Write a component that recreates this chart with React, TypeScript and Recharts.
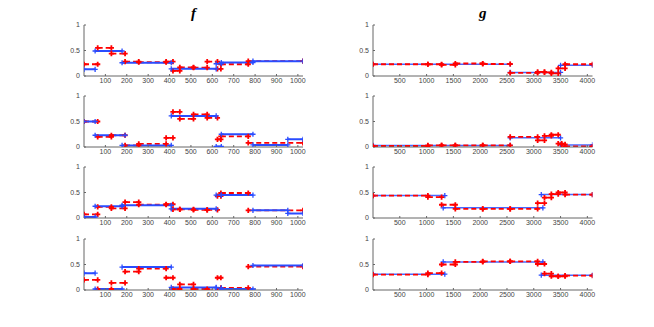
import React from 'react';
import { LineChart, Line, XAxis, YAxis } from 'recharts';

type Seg = [number, number, number];

const fTicks = [100, 200, 300, 400, 500, 600, 700, 800, 900, 1000];
const gTicks = [500, 1000, 1500, 2000, 2500, 3000, 3500, 4000];
const yTicks = [0, 0.5, 1];
const titles = ['f', 'g'];

// f panels: [start, end, value]
const f1True: Seg[] = [[0, 52, 0.13], [52, 178, 0.49], [178, 408, 0.26], [408, 618, 0.14], [618, 642, 0.24], [642, 790, 0.265], [790, 1024, 0.29]];
const f1Est: Seg[] = [[0, 64, 0.23], [64, 128, 0.55], [128, 192, 0.44], [192, 256, 0.28], [256, 384, 0.27], [384, 416, 0.28], [416, 448, 0.1], [448, 512, 0.17], [512, 576, 0.165], [576, 624, 0.28], [624, 640, 0.14], [640, 768, 0.23], [768, 1024, 0.29]];

const f2True: Seg[] = [[0, 52, 0.5], [52, 192, 0.23], [178, 408, 0.03], [408, 618, 0.61], [618, 642, 0.01], [642, 790, 0.25], [790, 953, 0.04], [953, 1024, 0.15]];
const f2Est: Seg[] = [[0, 64, 0.5], [64, 128, 0.2], [128, 192, 0.23], [192, 256, 0.03], [256, 384, 0.06], [384, 416, 0.18], [416, 448, 0.69], [448, 512, 0.55], [512, 576, 0.64], [576, 624, 0.57], [624, 640, 0.15], [640, 768, 0.21], [768, 1024, 0.08]];

const f3True: Seg[] = [[0, 52, 0.02], [52, 178, 0.23], [178, 408, 0.25], [408, 618, 0.18], [618, 642, 0.45], [642, 790, 0.45], [790, 953, 0.15], [953, 1024, 0.09]];
const f3Est: Seg[] = [[0, 64, 0.07], [64, 128, 0.22], [128, 192, 0.19], [192, 256, 0.31], [256, 384, 0.26], [384, 416, 0.27], [416, 448, 0.17], [448, 512, 0.17], [512, 576, 0.16], [576, 624, 0.16], [624, 640, 0.43], [640, 768, 0.49], [768, 1024, 0.15]];

const f4True: Seg[] = [[0, 52, 0.33], [52, 178, 0.02], [178, 408, 0.45], [408, 618, 0.05], [618, 642, 0.04], [642, 790, 0.02], [790, 1024, 0.48]];
const f4Est: Seg[] = [[0, 64, 0.2], [64, 128, 0.02], [128, 192, 0.14], [192, 256, 0.36], [256, 384, 0.42], [384, 416, 0.24], [416, 448, 0.02], [448, 512, 0.11], [512, 576, 0.02], [576, 624, -0.01], [624, 640, 0.24], [640, 768, 0.04], [768, 1024, 0.46]];

// g panels
const g1True: Seg[] = [[0, 2560, 0.23], [2560, 3500, 0.07], [3500, 4096, 0.21]];
const g1Est: Seg[] = [[0, 1024, 0.23], [1024, 1280, 0.23], [1280, 1536, 0.22], [1536, 2048, 0.245], [2048, 2560, 0.235], [2560, 3072, 0.06], [3072, 3200, 0.08], [3200, 3328, 0.07], [3328, 3456, 0.05], [3456, 3584, 0.15], [3584, 4096, 0.23]];

const g2True: Seg[] = [[0, 2560, 0.03], [2560, 3500, 0.18], [3500, 4096, 0.04]];
const g2Est: Seg[] = [[0, 1024, 0.02], [1024, 1280, 0.03], [1280, 1536, 0.03], [1536, 2048, 0.03], [2048, 2560, 0.03], [2560, 3072, 0.2], [3072, 3200, 0.13], [3200, 3328, 0.22], [3328, 3456, 0.24], [3456, 3520, 0.065], [3520, 3584, 0.05], [3584, 4096, 0.01]];

const g3True: Seg[] = [[0, 1340, 0.44], [1310, 3170, 0.2], [3140, 4096, 0.46]];
const g3Est: Seg[] = [[0, 1024, 0.44], [1024, 1280, 0.41], [1280, 1536, 0.26], [1536, 2048, 0.18], [2048, 2560, 0.18], [2560, 3072, 0.18], [3072, 3200, 0.29], [3200, 3328, 0.4], [3328, 3456, 0.47], [3456, 3584, 0.5], [3584, 4096, 0.46]];

const g4True: Seg[] = [[0, 1340, 0.31], [1310, 3170, 0.55], [3140, 4096, 0.29]];
const g4Est: Seg[] = [[0, 1024, 0.3], [1024, 1280, 0.33], [1280, 1536, 0.5], [1536, 2048, 0.55], [2048, 2560, 0.56], [2560, 3072, 0.56], [3072, 3200, 0.51], [3200, 3328, 0.32], [3328, 3456, 0.27], [3456, 3584, 0.27], [3584, 4096, 0.28]];

const fPanels = [[f1True, f1Est], [f2True, f2Est], [f3True, f3Est], [f4True, f4Est]];
const gPanels = [[g1True, g1Est], [g2True, g2Est], [g3True, g3Est], [g4True, g4Est]];

const BLUE = '#2a4cff';
const RED = '#ff0000';

function toPoints(segs: Seg[]) {
  const pts: { x: number; y: number | null }[] = [];
  segs.forEach(([a, b, v], i) => {
    if (i > 0) pts.push({ x: a, y: null });
    pts.push({ x: a, y: v });
    pts.push({ x: b, y: v });
  });
  return pts;
}

const plusDot = (color: string, w: number) => (props: any) => {
  const { cx, cy, payload, index } = props;
  if (cy == null || cx == null || payload == null || payload.y == null || isNaN(cy)) return <g key={'d' + index} />;
  const s = 2.6;
  return (
    <path key={'d' + index} d={`M${cx - s},${cy}H${cx + s}M${cx},${cy - s}V${cy + s}`} stroke={color} strokeWidth={w} fill="none" />
  );
};

const tickStyle = { fontSize: 7, fill: '#444', fontFamily: 'Liberation Sans, Arial, sans-serif' };

function Panel({ left, top, plotW, domain, ticks, trueSegs, estSegs, isG }: any) {
  const ML = 40, MR = 10, MT = 5, XH = 20;
  const plotH = 51;
  const trueLine = (
    <Line
      key="t"
      data={toPoints(trueSegs)}
      dataKey="y"
      stroke={BLUE}
      strokeWidth={isG ? 1.4 : 2}
      strokeOpacity={isG ? 0.85 : 1}
      dot={plusDot(BLUE, 1.3)}
      activeDot={false}
      connectNulls={false}
      isAnimationActive={false}
      type="linear"
    />
  );
  const estLine = (
    <Line
      key="e"
      data={toPoints(estSegs)}
      dataKey="y"
      stroke={RED}
      strokeWidth={1.8}
      strokeDasharray="5 3"
      dot={plusDot(RED, 1.8)}
      activeDot={false}
      connectNulls={false}
      isAnimationActive={false}
      type="linear"
    />
  );
  return (
    <div style={{ position: 'absolute', left: left - ML, top: top - MT }}>
      <LineChart width={ML + plotW + MR} height={MT + plotH + XH} margin={{ top: MT, right: MR, bottom: 0, left: 0 }}>
        <XAxis
          type="number"
          dataKey="x"
          domain={domain}
          ticks={ticks}
          allowDataOverflow
          height={XH}
          tick={tickStyle}
          tickSize={-2}
          tickMargin={4.5}
          stroke="#666"
          interval={0}
        />
        <YAxis
          type="number"
          domain={[0, 1]}
          ticks={yTicks}
          allowDataOverflow
          width={ML}
          tick={tickStyle}
          tickSize={-2}
          tickMargin={6}
          stroke="#666"
          interval={0}
        />
        {isG ? [trueLine, estLine] : [estLine, trueLine]}
      </LineChart>
    </div>
  );
}

export default function App() {
  const tops = [25, 96.2, 167, 238.5];
  return (
    <div style={{ position: 'absolute', left: 0, top: 0, width: 654, height: 327, background: '#fff', overflow: 'hidden' }}>
      <div style={{ position: 'absolute', left: 84, width: 219, top: 4, textAlign: 'center', fontFamily: 'Liberation Serif, DejaVu Serif, serif', fontStyle: 'italic', fontWeight: 'bold', fontSize: 15, lineHeight: '18px' }}>
        {titles[0]}
      </div>
      <div style={{ position: 'absolute', left: 373, width: 219.5, top: 4, textAlign: 'center', fontFamily: 'Liberation Serif, DejaVu Serif, serif', fontStyle: 'italic', fontWeight: 'bold', fontSize: 15, lineHeight: '18px' }}>
        {titles[1]}
      </div>
      {fPanels.map((p, i) => (
        <Panel key={'f' + i} left={84} top={tops[i]} plotW={219} domain={[0, 1024]} ticks={fTicks} trueSegs={p[0]} estSegs={p[1]} isG={false} />
      ))}
      {gPanels.map((p, i) => (
        <Panel key={'g' + i} left={373.3} top={tops[i]} plotW={219.5} domain={[0, 4096]} ticks={gTicks} trueSegs={p[0]} estSegs={p[1]} isG={true} />
      ))}
    </div>
  );
}
